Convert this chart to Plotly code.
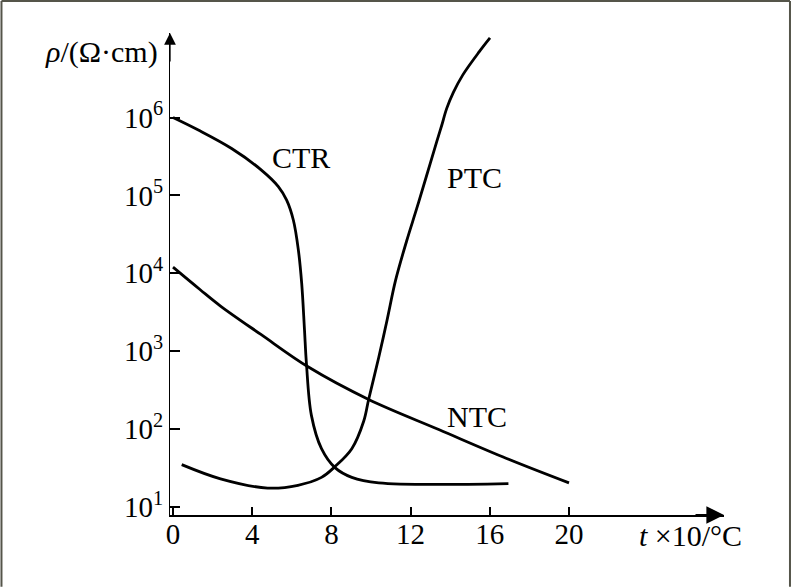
import plotly.graph_objects as go

# ---- data ----
ctr_t = [0, 1.28, 2.96, 4.48, 5.32, 5.74, 6.08, 6.33, 6.50, 6.64, 6.74, 6.99, 7.50, 8.18, 9.03, 10.39, 16.94]
ctr_rho = [1.0e6, 6.9e5, 4.0e5, 2.1e5, 1.3e5, 8.7e4, 4.8e4, 2.0e4, 7.4e3, 1.9e3, 690, 150, 56, 32, 24, 20.4, 20]

ptc_t = [0.44, 2.40, 4.78, 6.31, 7.50, 8.18, 9.03, 9.63, 9.88, 10.39, 10.81, 11.24, 11.80, 12.31, 12.81,
         13.32, 13.57, 13.82, 14.16, 14.63, 15.47, 16.01]
ptc_rho = [35, 23, 17.5, 19, 24, 33, 56, 126, 240, 830, 2.5e3, 8.1e3, 2.6e4, 6.8e4, 1.8e5,
           4.9e5, 7.9e5, 1.3e6, 2.1e6, 3.5e6, 7.0e6, 1.05e7]

ntc_t = [0, 1.36, 2.40, 4.44, 6.82, 9.88, 13.45, 16.85, 20.0]
ntc_rho = [1.2e4, 6.2e3, 3.8e3, 1.64e3, 630, 240, 98, 42, 20.4]

x_ticks = [0, 4, 8, 12, 16, 20]
y_ticks = [1e1, 1e2, 1e3, 1e4, 1e5, 1e6]
y_ticktext = ["10<sup>1</sup>", "10<sup>2</sup>", "10<sup>3</sup>", "10<sup>4</sup>", "10<sup>5</sup>", "10<sup>6</sup>"]

curve_labels = ["CTR", "PTC", "NTC"]

FONT = "Liberation Serif"
LINE = dict(color="black", width=2.8)

fig = go.Figure()
for t, r in [(ctr_t, ctr_rho), (ptc_t, ptc_rho), (ntc_t, ntc_rho)]:
    fig.add_trace(go.Scatter(x=t, y=r, mode="lines", line=dict(LINE, shape="spline", smoothing=1.0),
                             showlegend=False, hoverinfo="skip"))

fig.update_layout(
    width=793, height=587,
    margin=dict(l=170, r=69, t=33, b=72),
    paper_bgcolor="white", plot_bgcolor="white",
    font=dict(family=FONT, size=29, color="black"),
    xaxis=dict(range=[-0.1515, 27.828], tickvals=x_ticks, ticks="inside", ticklen=8, tickwidth=1.5,
               tickcolor="black", showline=True, linecolor="black", linewidth=2.2, showgrid=False,
               zeroline=False, tickfont=dict(family=FONT, size=29), ticklabelstandoff=-8),
    yaxis=dict(type="log", range=[0.897, 7.085], tickvals=y_ticks, ticktext=y_ticktext, ticks="inside",
               ticklen=10, tickwidth=1.5, tickcolor="black", showline=True, linecolor="black",
               linewidth=1.3, showgrid=False, zeroline=False, tickfont=dict(family=FONT, size=29),
               ticklabelstandoff=0),
)

# curve labels
for txt, x, ly in zip(curve_labels, [6.46, 15.25, 15.35], [5.493, 5.236, 2.168]):
    fig.add_annotation(x=x, y=ly, xref="x", yref="y", text=txt, showarrow=False,
                       font=dict(family=FONT, size=30), xanchor="center", yanchor="middle")

# axis titles
fig.add_annotation(xref="paper", yref="paper", x=-0.018, y=0.9606, text="<i>ρ</i>/(Ω·cm)",
                   showarrow=False, xanchor="right", yanchor="middle", font=dict(family=FONT, size=30))
fig.add_annotation(xref="paper", yref="paper", x=0.843, y=-0.0415, text="<i>t</i> ×10/°C",
                   showarrow=False, xanchor="left", yanchor="middle", font=dict(family=FONT, size=30))

# arrow heads on axes
fig.add_annotation(xref="paper", yref="paper", x=1.0, y=0.0, ax=-30, ay=0, text="", showarrow=True,
                   arrowhead=2, arrowsize=1.6, arrowwidth=2.2, arrowcolor="black", standoff=0)
fig.add_annotation(xref="paper", yref="paper", x=0.0, y=1.0, ax=0, ay=30, text="", showarrow=True,
                   arrowhead=2, arrowsize=1.8, arrowwidth=1.3, arrowcolor="black", standoff=0)

# frame around the picture
frame = dict(color="#55554a", width=2)
fig.add_shape(type="line", xref="paper", yref="paper", x0=-0.3042, x1=-0.3042, y0=-0.149, y1=1.0664, line=frame)
fig.add_shape(type="line", xref="paper", yref="paper", x0=-0.3042, x1=1.1191, y0=1.0664, y1=1.0664, line=frame)
fig.add_shape(type="line", xref="paper", yref="paper", x0=1.1191, x1=1.1191, y0=-0.149, y1=1.0664, line=frame)

fig.write_html("out.html", config={"displayModeBar": False},
               post_script="document.body.style.margin='0';document.body.style.padding='0';"
                           "document.body.style.overflow='hidden';")
